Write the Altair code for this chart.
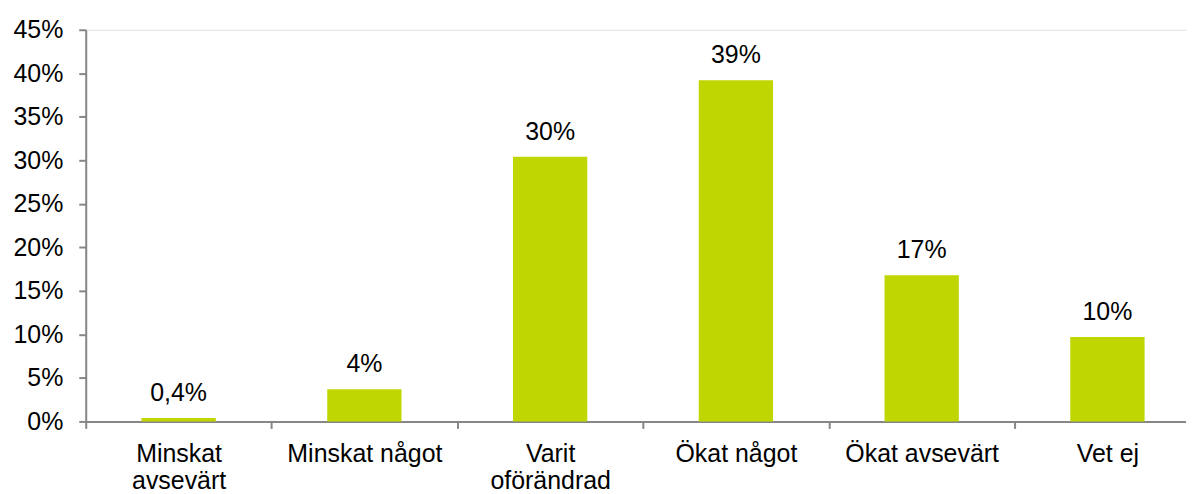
import json
import altair as alt
import pandas as pd

categories = ["Minskat avsevärt", "Minskat något", "Varit oförändrad",
              "Ökat något", "Ökat avsevärt", "Vet ej"]
label_lines = [["Minskat", "avsevärt"], ["Minskat något"], ["Varit", "oförändrad"],
               ["Ökat något"], ["Ökat avsevärt"], ["Vet ej"]]
values = [0.004, 0.037, 0.304, 0.392, 0.168, 0.097]
value_labels = ["0,4%", "4%", "30%", "39%", "17%", "10%"]
y_ticks = [0, 0.05, 0.10, 0.15, 0.20, 0.25, 0.30, 0.35, 0.40, 0.45]

idx = list(range(len(categories)))
df = pd.DataFrame({
    "idx": idx,
    "start": [i - 0.2 for i in idx],
    "end": [i + 0.2 for i in idx],
    "category": categories,
    "value": values,
    "vlabel": value_labels,
})

FONT = "Liberation Sans"
FS = 25
AXIS_COLOR = "#868686"
BAR_COLOR = "#BFD600"

x_values = []
for i in idx:
    x_values.append(i - 0.5)
    x_values.append(i)

labels_js = json.dumps(label_lines, ensure_ascii=False)

x_scale = alt.Scale(domain=[-0.5, 5.423], nice=False, zero=False)
x_axis = alt.Axis(
    values=x_values,
    title=None,
    grid=False,
    domainColor=AXIS_COLOR,
    domainWidth=2,
    tickColor=AXIS_COLOR,
    tickWidth=2,
    tickSize=7,
    tickOpacity={"condition": {"test": "datum.value != floor(datum.value)", "value": 1}, "value": 0},
    labelExpr=f"datum.value == floor(datum.value) ? {labels_js}[datum.value] : ''",
    labelFont=FONT,
    labelFontSize=FS,
    labelColor="#000000",
    labelPadding=13,
    labelLineHeight=27,
    labelOverlap=False,
    labelFlush=False,
    labelBaseline="top",
)

y_scale = alt.Scale(domain=[0, 0.45], nice=False)
y_axis = alt.Axis(
    values=y_ticks,
    format=".0%",
    title=None,
    grid=False,
    domainColor=AXIS_COLOR,
    domainWidth=2,
    tickColor=AXIS_COLOR,
    tickWidth=2,
    tickSize=7,
    labelFont=FONT,
    labelFontSize=FS,
    labelColor="#000000",
    labelPadding=16,
    labelFlush=False,
    labelOverlap=False,
)

bars = alt.Chart(df).mark_bar(color=BAR_COLOR).encode(
    x=alt.X("start:Q", scale=x_scale, axis=x_axis),
    x2="end:Q",
    y=alt.Y("value:Q", scale=y_scale, axis=y_axis),
    y2=alt.datum(0),
)

texts = alt.Chart(df).mark_text(
    baseline="alphabetic", dy=-17, font=FONT, fontSize=FS, color="#000000"
).encode(
    x=alt.X("idx:Q", scale=x_scale, axis=x_axis),
    y=alt.Y("value:Q", scale=y_scale, axis=y_axis),
    text="vlabel:N",
)

chart = alt.layer(bars, texts).properties(
    width=1104,
    height=393,
    padding={"left": 78, "top": 21, "right": 0, "bottom": 72},
    autosize=alt.AutoSizeParams(type="none"),
).configure_view(stroke=None).configure(background="white")

chart.save("out.html", embed_options={"renderer": "svg", "actions": False})
